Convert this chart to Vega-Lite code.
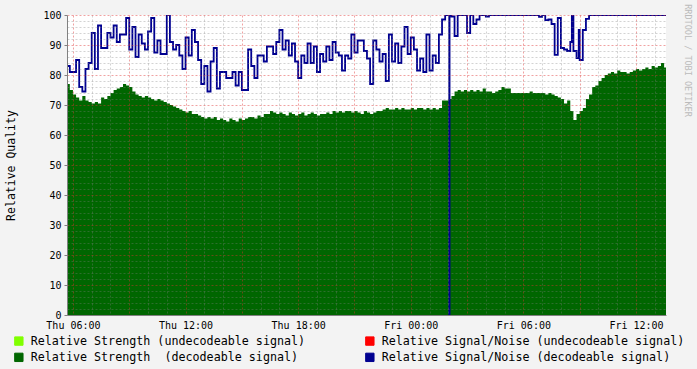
{
  "$schema": "https://vega.github.io/schema/vega-lite/v6.json",
  "width": 599,
  "height": 300,
  "autosize": {"type": "none"},
  "padding": {"left": 67, "top": 15, "right": 31, "bottom": 54},
  "background": "#F3F3F3",
  "config": {"view": {"fill": "white", "stroke": null}, "font": "DejaVu Sans Mono"},
  "data": {"values": [
    {"m":340,"s":77,"n":83},{"m":350,"s":75,"n":81},{"m":360,"s":73.5,"n":81},{"m":370,"s":72.5,"n":85},
    {"m":380,"s":71.5,"n":76},{"m":390,"s":73,"n":74.5},{"m":400,"s":71.5,"n":82},{"m":410,"s":71,"n":84},
    {"m":420,"s":70.5,"n":94},{"m":430,"s":71,"n":82},{"m":440,"s":70.5,"n":96.5},{"m":450,"s":72.5,"n":89},
    {"m":460,"s":72,"n":89},{"m":470,"s":73,"n":94},{"m":480,"s":74,"n":92.5},{"m":490,"s":75,"n":96.5},
    {"m":500,"s":75.5,"n":91},{"m":510,"s":76,"n":93.5},{"m":520,"s":77,"n":93.5},{"m":530,"s":76.5,"n":99},
    {"m":540,"s":76,"n":88.5},{"m":550,"s":74.5,"n":96},{"m":560,"s":73.5,"n":86},{"m":570,"s":73,"n":93.5},
    {"m":580,"s":72.5,"n":90.5},{"m":590,"s":73,"n":88.5},{"m":600,"s":72.5,"n":94.5},{"m":610,"s":72,"n":99},
    {"m":620,"s":71.5,"n":87.5},{"m":630,"s":72,"n":91.5},{"m":640,"s":71.5,"n":87},{"m":650,"s":71,"n":87},
    {"m":660,"s":70.5,"n":100},{"m":670,"s":70,"n":91},{"m":680,"s":69.5,"n":88.5},{"m":690,"s":69,"n":90},
    {"m":700,"s":68.5,"n":86.5},{"m":710,"s":68,"n":82},{"m":720,"s":67.5,"n":92.5},{"m":730,"s":68,"n":86.5},
    {"m":740,"s":67,"n":95},{"m":750,"s":67,"n":91},{"m":760,"s":66.5,"n":85},{"m":770,"s":66,"n":77},
    {"m":780,"s":65.5,"n":83},{"m":790,"s":66,"n":74.5},{"m":800,"s":65.5,"n":84.5},{"m":810,"s":66,"n":89},
    {"m":820,"s":65,"n":75.5},{"m":830,"s":65.5,"n":81},{"m":840,"s":65,"n":81},{"m":850,"s":64.5,"n":79},
    {"m":860,"s":65.5,"n":79},{"m":870,"s":65,"n":81},{"m":880,"s":64.5,"n":76.5},{"m":890,"s":65.5,"n":81},
    {"m":900,"s":65,"n":75},{"m":910,"s":65.5,"n":75},{"m":920,"s":66,"n":88.5},{"m":930,"s":66,"n":83},
    {"m":940,"s":65.5,"n":79},{"m":950,"s":66.5,"n":86.5},{"m":960,"s":66,"n":86.5},{"m":970,"s":67,"n":84.5},
    {"m":980,"s":67,"n":89.5},{"m":990,"s":68,"n":89.5},{"m":1000,"s":67.5,"n":87},{"m":1010,"s":67,"n":91},
    {"m":1020,"s":67.5,"n":95},{"m":1030,"s":67,"n":88.5},{"m":1040,"s":66.5,"n":91.5},{"m":1050,"s":67.5,"n":86.5},
    {"m":1060,"s":67,"n":90.5},{"m":1070,"s":66.5,"n":84.5},{"m":1080,"s":67,"n":79},{"m":1090,"s":67.5,"n":86.5},
    {"m":1100,"s":66.5,"n":84},{"m":1110,"s":67,"n":90.5},{"m":1120,"s":67.5,"n":84},{"m":1130,"s":67,"n":89.5},
    {"m":1140,"s":66.5,"n":81},{"m":1150,"s":67,"n":87},{"m":1160,"s":67,"n":84.5},{"m":1170,"s":67.5,"n":89.5},
    {"m":1180,"s":67,"n":85},{"m":1190,"s":68,"n":91},{"m":1200,"s":67.5,"n":87.5},{"m":1210,"s":68,"n":86.5},
    {"m":1220,"s":67.5,"n":81.5},{"m":1230,"s":68,"n":86.5},{"m":1240,"s":68,"n":85.5},{"m":1250,"s":67.5,"n":93.5},
    {"m":1260,"s":68,"n":87.5},{"m":1270,"s":67.5,"n":91.5},{"m":1280,"s":67,"n":91.5},{"m":1290,"s":68,"n":88},
    {"m":1300,"s":67.5,"n":85.5},{"m":1310,"s":67,"n":77},{"m":1320,"s":67.5,"n":91.5},{"m":1330,"s":68,"n":88.5},
    {"m":1340,"s":68,"n":84.5},{"m":1350,"s":68.5,"n":87},{"m":1360,"s":69,"n":78},{"m":1370,"s":68.5,"n":93.5},
    {"m":1380,"s":68.5,"n":84.5},{"m":1390,"s":69,"n":90.5},{"m":1400,"s":68.5,"n":84},{"m":1410,"s":69,"n":89.5},
    {"m":1420,"s":68.5,"n":96},{"m":1430,"s":68.5,"n":87},{"m":1440,"s":69,"n":92.5},{"m":1450,"s":68.5,"n":88.5},
    {"m":1460,"s":69,"n":81.5},{"m":1470,"s":69,"n":85.5},{"m":1480,"s":68.5,"n":81},{"m":1490,"s":69,"n":93.5},
    {"m":1500,"s":68.5,"n":81.5},{"m":1510,"s":69,"n":86.5},{"m":1520,"s":68.5,"n":84},{"m":1530,"s":69,"n":93.5},
    {"m":1540,"s":71.5,"n":98.5},{"m":1550,"s":71.5,"n":100},{"m":1560,"s":72,"n":100},{"m":1563,"s":72,"n":0},
    {"m":1564,"s":72,"n":100},{"m":1570,"s":73,"n":99.5},{"m":1580,"s":74.5,"n":93},{"m":1590,"s":75,"n":100},
    {"m":1600,"s":74.5,"n":100},{"m":1610,"s":75,"n":100},{"m":1620,"s":74.5,"n":94},{"m":1630,"s":75,"n":100},
    {"m":1640,"s":74.5,"n":97},{"m":1650,"s":75,"n":98.5},{"m":1660,"s":74.5,"n":100},{"m":1670,"s":75.5,"n":100},
    {"m":1680,"s":74.5,"n":99.5},{"m":1690,"s":74.5,"n":100},{"m":1700,"s":74,"n":100},{"m":1710,"s":74.5,"n":100},
    {"m":1720,"s":75,"n":100},{"m":1730,"s":76,"n":100},{"m":1740,"s":75.5,"n":100},{"m":1750,"s":75.5,"n":100},
    {"m":1760,"s":74,"n":100},{"m":1770,"s":74,"n":100},{"m":1780,"s":74,"n":100},{"m":1790,"s":74,"n":100},
    {"m":1800,"s":74,"n":100},{"m":1810,"s":74,"n":100},{"m":1820,"s":74.5,"n":100},{"m":1830,"s":74,"n":100},
    {"m":1840,"s":74,"n":100},{"m":1850,"s":74,"n":99.4},{"m":1860,"s":74,"n":100},{"m":1870,"s":73.5,"n":98.3},
    {"m":1880,"s":74,"n":98.5},{"m":1890,"s":73.5,"n":97},{"m":1900,"s":73,"n":86.7},{"m":1910,"s":72.5,"n":99},
    {"m":1920,"s":72,"n":89},{"m":1930,"s":70.5,"n":88.5},{"m":1940,"s":71.5,"n":88},{"m":1950,"s":68,"n":91},
    {"m":1955,"s":68,"n":100},{"m":1960,"s":65,"n":88},{"m":1970,"s":67,"n":85.6},{"m":1977,"s":67,"n":95},
    {"m":1980,"s":68,"n":85},{"m":1990,"s":69,"n":95},{"m":2000,"s":72,"n":98.7},{"m":2010,"s":73.5,"n":100},
    {"m":2020,"s":76,"n":100},{"m":2030,"s":76.5,"n":100},{"m":2040,"s":78,"n":100},{"m":2050,"s":79,"n":100},
    {"m":2060,"s":80,"n":100},{"m":2070,"s":80.5,"n":100},{"m":2080,"s":81,"n":100},{"m":2090,"s":80.5,"n":100},
    {"m":2100,"s":81.5,"n":100},{"m":2110,"s":81,"n":100},{"m":2120,"s":81,"n":100},{"m":2130,"s":80.5,"n":100},
    {"m":2140,"s":81,"n":100},{"m":2150,"s":81.5,"n":100},{"m":2160,"s":82,"n":100},{"m":2170,"s":81.5,"n":100},
    {"m":2180,"s":82,"n":100},{"m":2190,"s":82.5,"n":100},{"m":2200,"s":82,"n":100},{"m":2210,"s":83,"n":100},
    {"m":2220,"s":82.5,"n":100},{"m":2230,"s":83,"n":100},{"m":2240,"s":84,"n":100},{"m":2250,"s":82.5,"n":100},
    {"m":2256,"s":82.5,"n":100}
  ]},
  "encoding": {
    "x": {
      "field": "m", "type": "quantitative",
      "scale": {"domain": [341, 2256], "nice": false, "zero": false},
      "axis": {
        "title": null,
        "values": [360,420,480,540,600,660,720,780,840,900,960,1020,1080,1140,1200,1260,1320,1380,1440,1500,1560,1620,1680,1740,1800,1860,1920,1980,2040,2100,2160,2220],
        "labelExpr": "datum.value % 360 === 0 ? (datum.value < 1440 ? 'Thu ' : 'Fri ') + (floor((datum.value % 1440) / 60) < 10 ? '0' : '') + floor((datum.value % 1440) / 60) + ':00' : ''",
        "labelFont": "DejaVu Sans Mono", "labelFontSize": 10, "labelColor": "#000000",
        "labelPadding": 5, "labelFlush": false, "labelOverlap": false,
        "ticks": false,
        "domainColor": "#808080",
        "grid": true,
        "gridColor": {"condition": {"test": "datum.value % 180 === 0", "value": "rgba(222,48,48,0.45)"}, "value": "rgba(128,128,128,0.35)"},
        "gridDash": [2, 2],
        "zindex": 1
      }
    }
  },
  "layer": [
    {
      "mark": {"type": "area", "interpolate": "step-after", "clip": true},
      "encoding": {
        "y": {
          "field": "s", "type": "quantitative",
          "scale": {"domain": [0, 100], "nice": false},
          "axis": {
            "orient": "left",
            "title": "Relative Quality",
            "titleFont": "DejaVu Sans Mono", "titleFontSize": 11.5, "titleFontWeight": "normal", "titleColor": "#000000",
            "titlePadding": 26,
            "values": [0,2,4,6,8,10,12,14,16,18,20,22,24,26,28,30,32,34,36,38,40,42,44,46,48,50,52,54,56,58,60,62,64,66,68,70,72,74,76,78,80,82,84,86,88,90,92,94,96,98,100],
            "labelExpr": "datum.value % 10 === 0 ? datum.label : ''",
            "labelFont": "DejaVu Sans Mono", "labelFontSize": 10, "labelColor": "#000000",
            "labelPadding": 3, "labelFlush": false, "labelOverlap": false,
            "tickSize": 3,
            "tickColor": {"condition": {"test": "datum.value % 10 === 0", "value": "#808080"}, "value": "transparent"},
            "domainColor": "#808080",
            "grid": true,
            "gridColor": {"condition": {"test": "datum.value % 10 === 0", "value": "rgba(222,48,48,0.45)"}, "value": "rgba(128,128,128,0.35)"},
            "gridDash": [2, 2],
            "zindex": 1
          }
        },
        "color": {
          "datum": "Relative Strength \u00a0(decodeable signal)", "type": "nominal",
          "scale": {
            "domain": ["Relative Strength (undecodeable signal)", "Relative Signal/Noise (undecodeable signal)", "Relative Strength \u00a0(decodeable signal)", "Relative Signal/Noise (decodeable signal)"],
            "range": ["#80FF00", "#FF0000", "#006600", "#000090"]
          },
          "legend": {
            "orient": "none", "legendX": -54, "legendY": 320,
            "direction": "horizontal", "columns": 2, "columnPadding": 57, "rowPadding": 2.5,
            "title": null,
            "symbolType": "square", "symbolSize": 70, "symbolStrokeColor": "#000000", "symbolStrokeWidth": 1,
            "labelFont": "DejaVu Sans Mono", "labelFontSize": 11.7, "labelColor": "#000000", "labelOffset": 6, "labelLimit": 400,
            "encode": {"symbols": {"update": {"fill": {"scale": "color", "field": "value"}, "stroke": {"value": "#000000"}, "strokeWidth": {"value": 1}, "opacity": {"value": 1}}}}
          }
        }
      }
    },
    {
      "mark": {"type": "line", "interpolate": "step-after", "strokeWidth": 1.8, "clip": true},
      "encoding": {
        "y": {
          "field": "n", "type": "quantitative",
          "axis": {
            "orient": "right",
            "title": "RRDTOOL / TOBI OETIKER",
            "labels": false, "ticks": false, "domain": false, "grid": false,
            "titleAngle": 90, "titleX": 21, "titleY": 45, "titleAlign": "center", "titleBaseline": "middle",
            "titleFont": "DejaVu Sans Mono", "titleFontSize": 8.5, "titleFontWeight": "normal", "titleColor": "#BBBBBB"
          }
        },
        "color": {"datum": "Relative Signal/Noise (decodeable signal)", "type": "nominal"}
      }
    }
  ],
  "resolve": {"scale": {"y": "shared"}, "axis": {"y": "independent"}}
}
